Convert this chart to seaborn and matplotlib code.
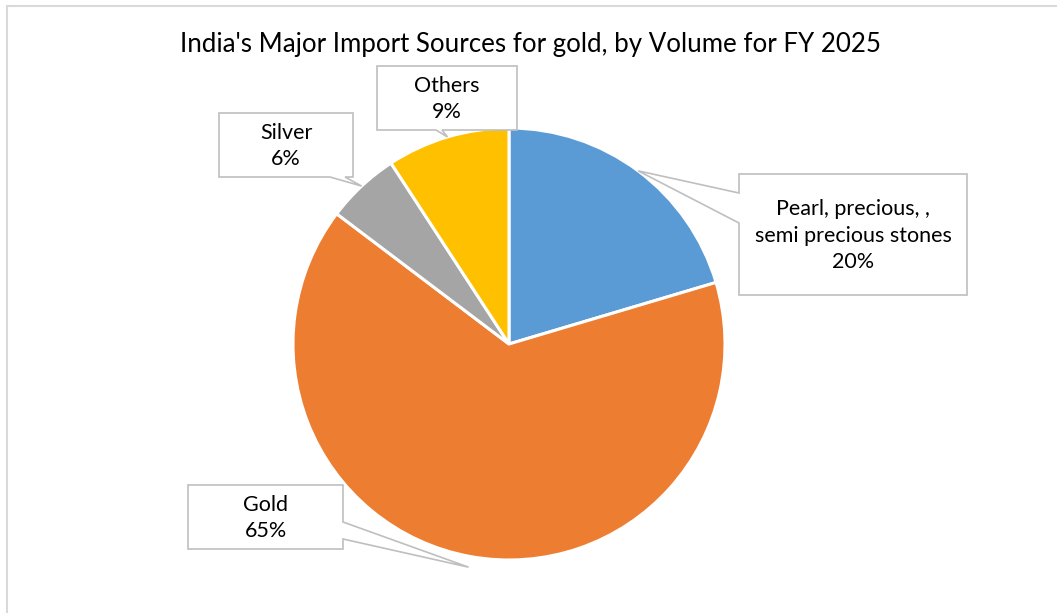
import matplotlib
matplotlib.use("Agg")
import matplotlib.pyplot as plt
from matplotlib.patches import Polygon
from matplotlib.lines import Line2D
import seaborn as sns
import numpy as np

# ---- data ----
categories = ["Pearl, precious, ,\nsemi precious stones", "Gold", "Silver", "Others"]
shares = [20.4, 64.9, 5.5, 9.2]
colors = ["#5B9BD5", "#ED7D31", "#A5A5A5", "#FFC000"]
title = "India's Major Import Sources for gold, by Volume for FY 2025"

sns.set_theme(style="white")
plt.rcParams["font.family"] = ["Lato", "DejaVu Sans"]

W, H = 1057, 613
fig = plt.figure(figsize=(W / 100, H / 100), dpi=100)
ax = fig.add_axes([0, 0, 1, 1])

def Y(py):
    return H - py

cx, cy, R = 509, 344, 216
wedges, _ = ax.pie(shares, colors=colors, startangle=90, counterclock=False,
                   center=(cx, Y(cy)), radius=R,
                   wedgeprops=dict(edgecolor="white", linewidth=2.2))
ax.set_xlim(0, W)
ax.set_ylim(0, H)
ax.set_aspect("equal")
ax.axis("off")

# layout of callouts (pixel coords, top-left origin)
layout = [
    dict(box=(739, 174, 967, 295), side="left", base=(193, 223), tipr=1.0),
    dict(box=(188, 485, 343, 549), side="right", base=(522, 539), tipr=1.05),
    dict(box=(219, 113, 353, 177), side="bottom", base=(330, 345), tipr=1.0),
    dict(box=(377, 66, 517, 130), side="bottom", base=(436, 442), tipr=1.0),
]

edge = "#BFBFBF"
for w, cat, val, lay in zip(wedges, categories, shares, layout):
    mid = np.deg2rad((w.theta1 + w.theta2) / 2)
    tx = cx + R * lay["tipr"] * np.cos(mid)
    ty = Y(cy) + R * lay["tipr"] * np.sin(mid)
    x0, y0, x1, y1 = lay["box"]
    a, b = lay["base"]
    side = lay["side"]
    pts = [(x0, Y(y0)), (x1, Y(y0))]
    if side == "right":
        pts += [(x1, Y(a)), (tx, ty), (x1, Y(b))]
    pts += [(x1, Y(y1))]
    if side == "bottom":
        pts += [(b, Y(y1)), (tx, ty), (a, Y(y1))]
    pts += [(x0, Y(y1))]
    if side == "left":
        pts += [(x0, Y(b)), (tx, ty), (x0, Y(a))]
    poly = Polygon(pts, closed=True, facecolor="white", edgecolor=edge,
                   linewidth=1.2, zorder=5)
    ax.add_patch(poly)
    label = f"{cat}\n{val:.0f}%"
    ax.text((x0 + x1) / 2, Y((y0 + y1) / 2 + 1), label, ha="center", va="center",
            fontsize=15.5, color="#000000", linespacing=1.4, zorder=6)

ax.text(531, Y(52), title, ha="center", va="baseline", fontsize=18.6,
        color="#000000", zorder=6)

# chart area border
fig.add_artist(Line2D([6.5 / W, 6.5 / W], [0, 1 - 6 / H], transform=fig.transFigure,
                      color="#D9D9D9", linewidth=1.5))
fig.add_artist(Line2D([6.5 / W, 1], [1 - 6 / H, 1 - 6 / H], transform=fig.transFigure,
                      color="#D9D9D9", linewidth=1.5))

fig.savefig("out.png", dpi=100, facecolor="white")
